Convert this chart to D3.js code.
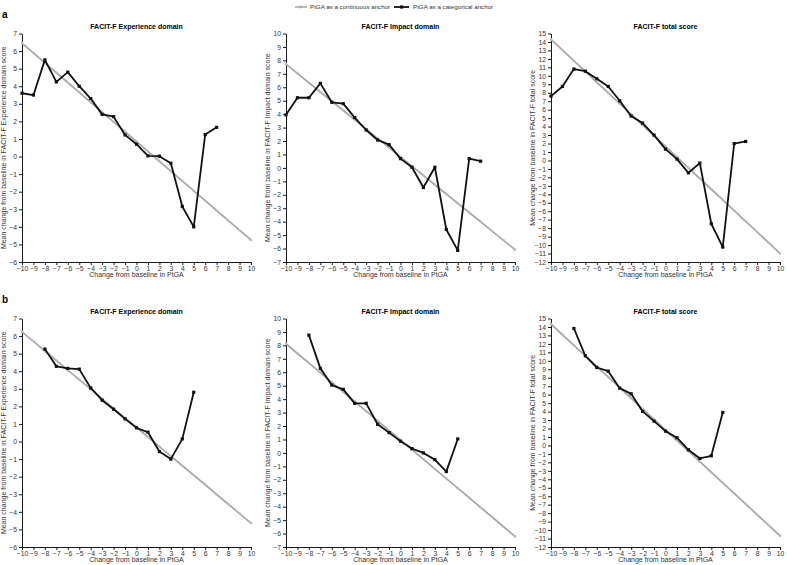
<!DOCTYPE html>
<html>
<head>
<meta charset="utf-8">
<script src="https://cdn.jsdelivr.net/npm/d3@7"></script>
<style>
  body { margin: 0; background: #fff; }
  svg { display: block; font-family: "Liberation Sans", Arial, sans-serif; }
  .tick text { fill: #333; font-size: 6.8px; }
  .domain, .tick line { stroke: #000; stroke-width: 0.9; }
</style>
</head>
<body>
<div id="chart"></div>
<script>
// x values
var xGray = [-10,-9,-8,-7,-6,-5,-4,-3,-2,-1,0,1,2,3,4,5,6,7,8,9,10];
var xTop = [-10,-9,-8,-7,-6,-5,-4,-3,-2,-1,0,1,2,3,4,5,6,7];
var xBottom = [-8,-7,-6,-5,-4,-3,-2,-1,0,1,2,3,4,5];

// row a : categorical anchor
var aExpCat = [3.6,3.5,5.5,4.25,4.8,4.0,3.3,2.4,2.27,1.23,0.7,0.04,0.02,-0.38,-2.84,-4.0,1.25,1.66];
var aImpCat = [3.95,5.22,5.22,6.29,4.88,4.78,3.74,2.82,2.08,1.73,0.69,0.05,-1.46,0.05,-4.58,-6.14,0.69,0.5];
var aTotCat = [7.6,8.74,10.8,10.55,9.65,8.74,7.05,5.24,4.41,2.99,1.34,0.16,-1.46,-0.31,-7.48,-10.24,2.0,2.24];
// row a : continuous anchor
var aExpCont = [6.45,5.89,5.33,4.77,4.21,3.65,3.09,2.53,1.97,1.41,0.85,0.29,-0.27,-0.83,-1.39,-1.95,-2.51,-3.07,-3.63,-4.19,-4.75];
var aImpCont = [7.72,7.03,6.34,5.65,4.96,4.27,3.58,2.89,2.2,1.51,0.82,0.13,-0.56,-1.25,-1.94,-2.63,-3.32,-4.01,-4.7,-5.39,-6.08];
var aTotCont = [14.3,13.04,11.77,10.51,9.24,7.98,6.72,5.45,4.19,2.92,1.66,0.4,-0.87,-2.13,-3.4,-4.66,-5.92,-7.19,-8.45,-9.72,-10.98];

// row b : categorical anchor
var bExpCat = [5.26,4.28,4.16,4.12,3.05,2.35,1.84,1.29,0.78,0.53,-0.57,-1.0,0.15,2.8];
var bImpCat = [8.76,6.29,5.05,4.73,3.69,3.69,2.13,1.51,0.87,0.32,0.0,-0.5,-1.39,1.04];
var bTotCat = [13.82,10.59,9.21,8.78,6.77,6.1,4.02,2.87,1.69,0.91,-0.51,-1.54,-1.22,3.9];
// row b : continuous anchor
var bExpCont = [6.24,5.7,5.15,4.61,4.06,3.52,2.98,2.43,1.89,1.34,0.8,0.26,-0.29,-0.83,-1.38,-1.92,-2.46,-3.01,-3.55,-4.1,-4.64];
var bImpCont = [8.12,7.4,6.69,5.97,5.25,4.54,3.82,3.11,2.39,1.67,0.96,0.24,-0.47,-1.19,-1.91,-2.62,-3.34,-4.06,-4.77,-5.49,-6.21];
var bTotCont = [14.33,13.08,11.83,10.58,9.33,8.08,6.83,5.58,4.33,3.08,1.83,0.58,-0.67,-1.92,-3.17,-4.42,-5.67,-6.92,-8.17,-9.42,-10.67];

var panelTitles = ['FACIT-F Experience domain','FACIT-F Impact domain','FACIT-F total score'];
var yTitles = ['Mean change from baseline in FACIT-F Experience domain score',
               'Mean change from baseline in FACIT-F Impact domain score',
               'Mean change from baseline in FACIT-F total score'];
var yDomains = [[-6,7],[-7,10],[-12,15]];
var xTitle = 'Change from baseline in PtGA';
var rowLabels = ['a','b'];
var legendLabels = ['PtGA as a continuous anchor','PtGA as a categorical anchor'];

var rows = [
  { xs: xTop, cat: [aExpCat,aImpCat,aTotCat], cont: [aExpCont,aImpCont,aTotCont] },
  { xs: xBottom, cat: [bExpCat,bImpCat,bTotCat], cont: [bExpCont,bImpCont,bTotCont] }
];

var W = 787, H = 565;
var GRAY = '#a9a9a9';
var colLeft = [22, 286, 551], plotW = 229;
var rowTop = [33.5, 318.5], plotH = 228.5;

var svg = d3.select('#chart').append('svg').attr('width', W).attr('height', H);

// legend
var lg = svg.append('g').attr('transform', 'translate(0,7)');
lg.append('line').attr('x1',295).attr('x2',307).attr('stroke',GRAY).attr('stroke-width',1.6);
lg.append('circle').attr('cx',301).attr('r',1.4).attr('fill',GRAY);
lg.append('text').attr('x',310).attr('y',2.3).attr('font-size',6.2).attr('fill','#333').text(legendLabels[0]);
lg.append('line').attr('x1',394).attr('x2',409).attr('stroke','#111').attr('stroke-width',1.8);
lg.append('rect').attr('x',400).attr('y',-1.6).attr('width',3.2).attr('height',3.2).attr('fill','#111');
lg.append('text').attr('x',413).attr('y',2.3).attr('font-size',6.2).attr('fill','#333').text(legendLabels[1]);

rows.forEach(function(row, r) {
  svg.append('text').attr('x',2).attr('y',rowTop[r]-16).attr('font-size',10).attr('font-weight','bold')
    .text(rowLabels[r]);

  for (var c = 0; c < 3; c++) {
    var g = svg.append('g').attr('transform','translate('+colLeft[c]+','+rowTop[r]+')');
    var x = d3.scaleLinear().domain([-10,10]).range([0,plotW]);
    var y = d3.scaleLinear().domain(yDomains[c]).range([plotH,0]);

    g.append('g').attr('class','axis').attr('transform','translate(0,'+plotH+')')
      .call(d3.axisBottom(x).ticks(20).tickSize(3).tickPadding(1.5).tickSizeOuter(0));
    g.append('g').attr('class','axis')
      .call(d3.axisLeft(y).ticks(yDomains[c][1]-yDomains[c][0]).tickSize(3).tickPadding(2).tickSizeOuter(0));

    g.append('text').attr('x',plotW/2).attr('y',-5).attr('text-anchor','middle')
      .attr('font-size',7).attr('font-weight','bold').text(panelTitles[c]);
    g.append('text').attr('x',plotW/2).attr('y',plotH+15).attr('text-anchor','middle')
      .attr('font-size',7).attr('fill','#333').text(xTitle);
    g.append('text').attr('transform','translate('+(-16)+','+(plotH/2)+') rotate(-90)')
      .attr('text-anchor','middle').attr('font-size',7).attr('fill','#333').text(yTitles[c]);

    var line = d3.line().x(function(d){ return x(d[0]); }).y(function(d){ return y(d[1]); });

    var contPts = xGray.map(function(v,i){ return [v,row.cont[c][i]]; });
    g.append('path').datum(contPts).attr('d',line).attr('fill','none')
      .attr('stroke',GRAY).attr('stroke-width',1.8);
    g.selectAll('.gdot').data(contPts).enter().append('circle')
      .attr('cx',function(d){ return x(d[0]); }).attr('cy',function(d){ return y(d[1]); })
      .attr('r',1.3).attr('fill','#bbb');

    var catPts = row.xs.map(function(v,i){ return [v,row.cat[c][i]]; });
    g.append('path').datum(catPts).attr('d',line).attr('fill','none')
      .attr('stroke','#111').attr('stroke-width',1.8).attr('stroke-linejoin','round');
    g.selectAll('.bsq').data(catPts).enter().append('rect')
      .attr('x',function(d){ return x(d[0])-1.6; }).attr('y',function(d){ return y(d[1])-1.6; })
      .attr('width',3.2).attr('height',3.2).attr('fill','#111');
  }
});
</script>
</body>
</html>
